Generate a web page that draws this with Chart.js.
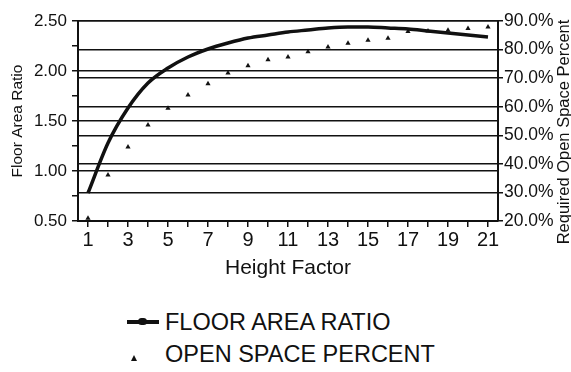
<!DOCTYPE html>
<html>
<head>
<meta charset="utf-8">
<script src="https://cdn.jsdelivr.net/npm/chart.js@4"></script>
<style>
  body { margin: 0; background: #fff; }
  #wrap { position: relative; width: 571px; height: 372px; font-family: "Liberation Sans", Arial, sans-serif; }
  #box { position: absolute; left: 0; top: 0; width: 571px; height: 290px; }
  .leg { position: absolute; left: 124px; font-size: 23.5px; color: #111; line-height: 26px; }
  .leg span.txt { position: absolute; left: 41px; top: 0; white-space: nowrap; }
  .sym-line { position: absolute; left: 3px; top: 11px; width: 32px; height: 4px; background: #111; }
  .sym-dot { position: absolute; left: 14px; top: 9px; width: 9px; height: 7px; border-radius: 4px; background: #111; }
  .sym-tri { position: absolute; left: 7px; top: 14px; width: 0; height: 0;
    border-left: 3px solid transparent; border-right: 3px solid transparent; border-bottom: 6px solid #111; }
</style>
</head>
<body>
<div id="wrap">
  <div id="box"><canvas id="g1"></canvas></div>
  <div class="leg" style="top:309px"><div class="sym-line"></div><div class="sym-dot"></div><span class="txt">FLOOR AREA RATIO</span></div>
  <div class="leg" style="top:341px"><div class="sym-tri"></div><span class="txt">OPEN SPACE PERCENT</span></div>
</div>
<script>
// categories (height factor)
var heightFactor = ['1','2','3','4','5','6','7','8','9','10','11','12','13','14','15','16','17','18','19','20','21'];

// floor area ratio (left axis)
var floorAreaRatio = [0.78, 1.28, 1.63, 1.88, 2.03, 2.14, 2.22, 2.28, 2.33, 2.36, 2.39, 2.41, 2.43, 2.44, 2.44, 2.43, 2.42, 2.40, 2.38, 2.36, 2.34];

// required open space percent (right axis)
var openSpace = [21.0, 36.1, 45.9, 53.6, 59.5, 64.1, 68.0, 71.8, 74.3, 76.4, 77.4, 79.2, 80.9, 82.2, 83.3, 84.0, 86.3, 86.5, 86.8, 87.4, 87.9];

var fnt = 'Liberation Sans, Arial, sans-serif';
var ink = '#111';

// right title reads bottom-to-top, so draw it by hand
var rightTitle = {
    id: 'rightTitle',
    afterDraw: function(chart) {
        var c = chart.ctx;
        c.save();
        c.translate(564, 132);
        c.rotate(-Math.PI / 2);
        c.font = '16.5px ' + fnt;
        c.fillStyle = ink;
        c.textAlign = 'center';
        c.textBaseline = 'middle';
        c.fillText('Required Open Space Percent', 0, 0);
        c.restore();
    }
};

var ctx = document.getElementById('g1');

var myChart = new Chart(ctx, {
    type: 'line',
    data: {
        labels: heightFactor,
        datasets: [{
            label: 'FLOOR AREA RATIO',
            data: floorAreaRatio,
            yAxisID: 'y',
            borderColor: ink,
            backgroundColor: ink,
            borderWidth: 3.5,
            cubicInterpolationMode: 'monotone',
            pointRadius: 0,
            order: 1
        }, {
            label: 'OPEN SPACE PERCENT',
            data: openSpace,
            yAxisID: 'y2',
            showLine: false,
            pointStyle: 'triangle',
            pointRadius: 3,
            borderWidth: 0,
            backgroundColor: ink,
            borderColor: ink,
            order: 0
        }]
    },
    options: {
        responsive: true,
        maintainAspectRatio: false,
        animation: false,
        layout: { padding: { top: 21, left: 0, right: 0, bottom: 0 } },
        plugins: {
            legend: { display: false },
            tooltip: { enabled: false }
        },
        scales: {
            x: {
                offset: true,
                afterFit: function(s) { s.height = 69; },
                border: { color: ink, width: 2 },
                grid: { drawOnChartArea: false, drawTicks: true, tickLength: 6, color: ink, lineWidth: 1.5 },
                ticks: {
                    autoSkip: false,
                    maxRotation: 0,
                    padding: 1,
                    color: ink,
                    font: { family: fnt, size: 20 },
                    callback: function(v, i) { return i % 2 === 0 ? heightFactor[i] : ''; }
                },
                title: {
                    display: true,
                    text: 'Height Factor',
                    color: ink,
                    font: { family: fnt, size: 21 },
                    padding: { top: 0, bottom: 9 }
                }
            },
            y: {
                position: 'left',
                min: 0.5,
                max: 2.5,
                afterFit: function(s) { s.width = 78; },
                border: { color: ink, width: 2 },
                grid: {
                    color: function(c) { return (Math.round(c.tick.value * 100) % 50 === 0) ? ink : 'rgba(0,0,0,0)'; },
                    tickColor: ink,
                    lineWidth: 1.5,
                    tickLength: 6
                },
                ticks: {
                    stepSize: 0.25,
                    padding: 5,
                    color: ink,
                    font: { family: fnt, size: 17 },
                    callback: function(v) { return (Math.round(v * 100) % 50 === 0) ? v.toFixed(2) : ''; }
                },
                title: {
                    display: true,
                    text: 'Floor Area Ratio',
                    color: ink,
                    font: { family: fnt, size: 15.5 },
                    padding: { top: 8, bottom: 0 }
                }
            },
            y2: {
                position: 'right',
                min: 20,
                max: 90,
                afterFit: function(s) { s.width = 73; },
                border: { color: ink, width: 2 },
                grid: {
                    drawOnChartArea: true,
                    color: function(c) { return (c.tick.value % 10 === 0) ? ink : 'rgba(0,0,0,0)'; },
                    tickColor: ink,
                    lineWidth: 1.5,
                    tickLength: 5
                },
                ticks: {
                    stepSize: 5,
                    padding: 1,
                    color: ink,
                    font: { family: fnt, size: 17.5 },
                    callback: function(v) { return (v % 10 === 0) ? v.toFixed(1) + '%' : ''; }
                }
            }
        }
    },
    plugins: [rightTitle]
});
</script>
</body>
</html>
